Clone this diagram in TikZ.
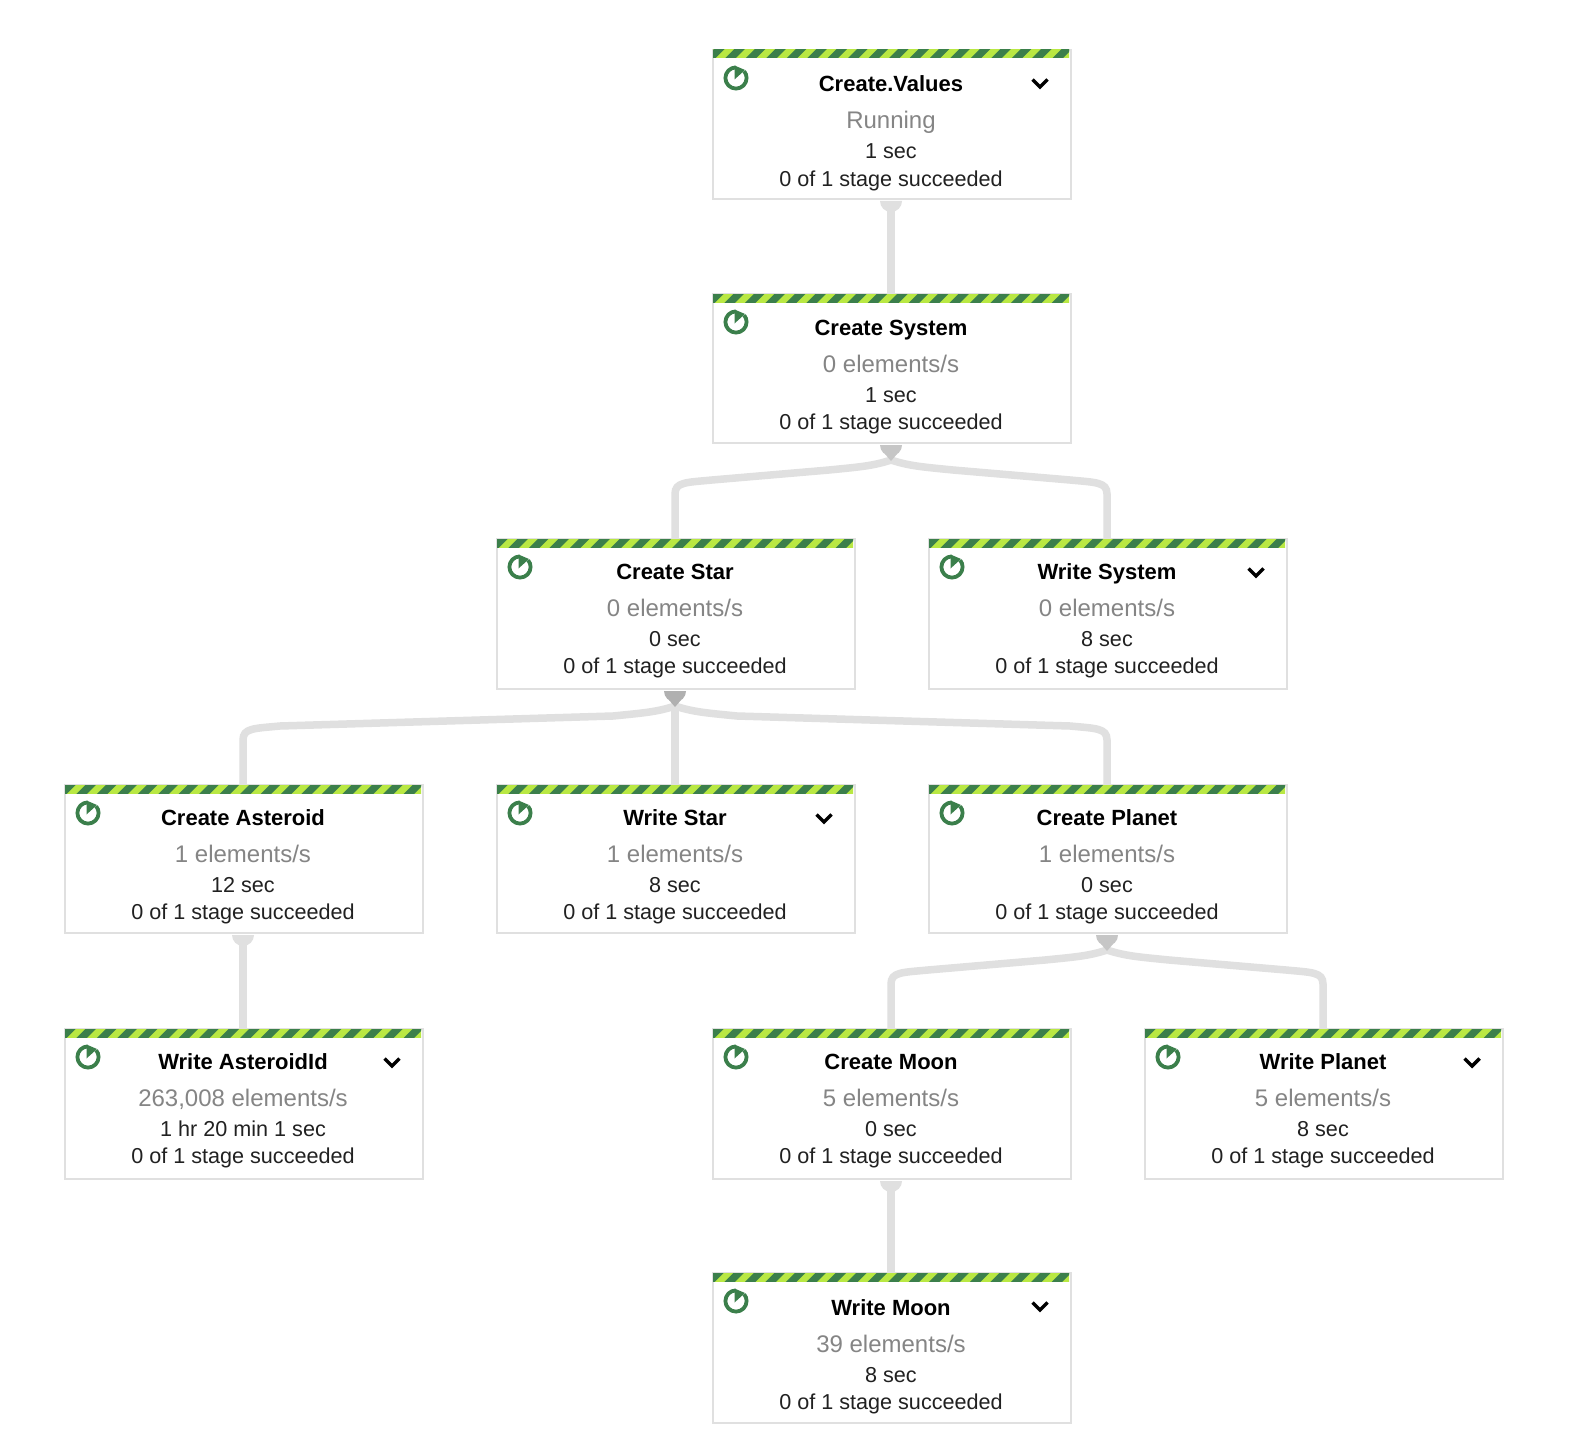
\documentclass[tikz,border=0pt]{standalone}
\usepackage{fontspec}
\setmainfont{Liberation Sans}
\usetikzlibrary{calc}
\definecolor{edgegray}{HTML}{E0E0E0}
\definecolor{bulbtwo}{HTML}{C6C6C6}
\definecolor{bulbthree}{HTML}{B0B0B0}
\definecolor{stripedark}{HTML}{3B7F4B}
\definecolor{stripelight}{HTML}{B9E843}
\definecolor{statusgray}{HTML}{858585}
\definecolor{textdark}{HTML}{212121}
\tikzset{
  stagebox/.style={draw=edgegray,line width=2pt,fill=white,minimum width=358pt,inner sep=0pt,anchor=north west},
  stagetitle/.style={font=\fontsize{22}{24}\selectfont\bfseries,text=black,inner sep=0pt,anchor=base},
  stagestatus/.style={font=\fontsize{24}{26}\selectfont,text=statusgray,inner sep=0pt,anchor=base},
  stagetext/.style={font=\fontsize{21.6}{24}\selectfont,text=textdark,inner sep=0pt,anchor=base},
  edgeline/.style={draw=edgegray,line width=7.5pt},
  chevronline/.style={draw=black,line width=3.5pt},
  ringline/.style={draw=stripedark,line width=3.8pt}
}
% name, left, top, height, title, title baseline offset, status, time, chevron (1/0)
\newcommand{\stage}[9]{%
  \node[stagebox,minimum height=#4pt] (#1) at (#2,#3) {};
  \begin{scope}
    \clip (#2+1,#3+1) rectangle (#2+357,#3+9);
    \fill[stripelight] (#2,#3) rectangle (#2+358,#3+10);
    \foreach \k in {0,...,18}{
      \fill[stripedark] (#2-8+\k*20.45,#3+10) -- (#2+2+\k*20.45,#3) -- (#2+12.5+\k*20.45,#3) -- (#2+2.5+\k*20.45,#3+10) -- cycle;
    }
  \end{scope}
  \begin{scope}[shift={(#2+24,#3+29)},y=1pt]
    \draw[ringline] (90:10.6pt) arc[start angle=90,end angle=400,radius=10.6pt];
    \fill[stripedark] (-1.5pt,12.5pt) -- (9pt,8pt) -- (-1.5pt,-1.5pt) -- cycle;
  \end{scope}
  \node[stagetitle] (#1-title) at (#2+179,#3+#6) {#5};
  \node[stagestatus] (#1-status) at (#2+179,#3+#6+37) {#7};
  \node[stagetext] (#1-time) at (#2+179,#3+#6+67) {#8};
  \node[stagetext] (#1-result) at (#2+179,#3+#6+94.5) {0 of 1 stage succeeded};
  \ifnum#9=1
    \draw[chevronline] (#2+320.5,#3+30.5) -- (#2+328,#3+38) -- (#2+335.5,#3+30.5);
  \fi
}
% straight connector
\newcommand{\vconn}[2]{%
  \path let \p1=(#1.south),\p2=(#2.north) in
    coordinate (s) at (\x1-1pt,\y1-10pt) coordinate (t) at (\x1-1pt,\y2);
  \draw[edgeline] (s) -- (t);
}
% curved connector: parent, child, direction sign
\newcommand{\cconn}[3]{%
  \path let \p1=(#1.south),\p2=(#2.north) in
    coordinate (s) at (\x1-1pt,\y1-16pt)
    coordinate (a) at (\x1-1pt+#3*62pt,\y1-26pt)
    coordinate (b) at (\x2-1pt-#3*37pt,\y1-36pt)
    coordinate (c) at (\x2-1pt,\y1-50pt)
    coordinate (t) at (\x2-1pt,\y2);
  \draw[edgeline] (s) .. controls ($(s)+(#3*18pt,-6pt)$) and ($(a)+(-#3*30pt,3pt)$) .. (a) -- (b)
     .. controls ($(b)+(#3*26pt,-2.5pt)$) and ($(c)+(0pt,12pt)$) .. (c) -- (t);
}
% half-round start mark under a parent
\newcommand{\bulbmark}[2]{%
  \fill[#2] let \p1=(#1.south) in (\x1-12pt,\y1-1pt) arc[start angle=180,end angle=360,radius=11pt] -- cycle;
}
\newcommand{\bulbtip}[2]{%
  \fill[#2] let \p1=(#1.south) in (\x1-7pt,\y1-10pt) -- (\x1+5pt,\y1-10pt) -- (\x1-1pt,\y1-17pt) -- cycle;
}
\begin{document}
\begin{tikzpicture}[x=1pt,y=-1pt]
\useasboundingbox (0,0) rectangle (1596,1450);
\fill[white] (0,0) rectangle (1596,1450);
\stage{values}{712}{49}{149}{Create.Values}{43}{Running}{1 sec}{1}
\stage{system}{712}{293}{149}{Create System}{42}{0 elements/s}{1 sec}{0}
\stage{star}{496}{538}{150}{Create Star}{41}{0 elements/s}{0 sec}{0}
\stage{wsystem}{928}{538}{150}{Write System}{41}{0 elements/s}{8 sec}{1}
\stage{asteroid}{64}{784}{148}{Create Asteroid}{41}{1 elements/s}{12 sec}{0}
\stage{wstar}{496}{784}{148}{Write Star}{41}{1 elements/s}{8 sec}{1}
\stage{planet}{928}{784}{148}{Create Planet}{41}{1 elements/s}{0 sec}{0}
\stage{wasteroid}{64}{1028}{150}{Write AsteroidId}{41}{263,008 elements/s}{1 hr 20 min 1 sec}{1}
\stage{moon}{712}{1028}{150}{Create Moon}{41}{5 elements/s}{0 sec}{0}
\stage{wplanet}{1144}{1028}{150}{Write Planet}{41}{5 elements/s}{8 sec}{1}
\stage{wmoon}{712}{1272}{150}{Write Moon}{43}{39 elements/s}{8 sec}{1}
\vconn{values}{system}
\cconn{system}{star}{-1}
\cconn{system}{wsystem}{1}
\cconn{star}{asteroid}{-1}
\vconn{star}{wstar}
\cconn{star}{planet}{1}
\vconn{asteroid}{wasteroid}
\cconn{planet}{moon}{-1}
\cconn{planet}{wplanet}{1}
\vconn{moon}{wmoon}
\bulbmark{values}{edgegray}
\bulbtip{system}{bulbtwo}\bulbmark{system}{bulbtwo}
\bulbtip{star}{bulbthree}\bulbmark{star}{bulbthree}
\bulbmark{asteroid}{edgegray}
\bulbtip{planet}{bulbtwo}\bulbmark{planet}{bulbtwo}
\bulbmark{moon}{edgegray}
\end{tikzpicture}
\end{document}
